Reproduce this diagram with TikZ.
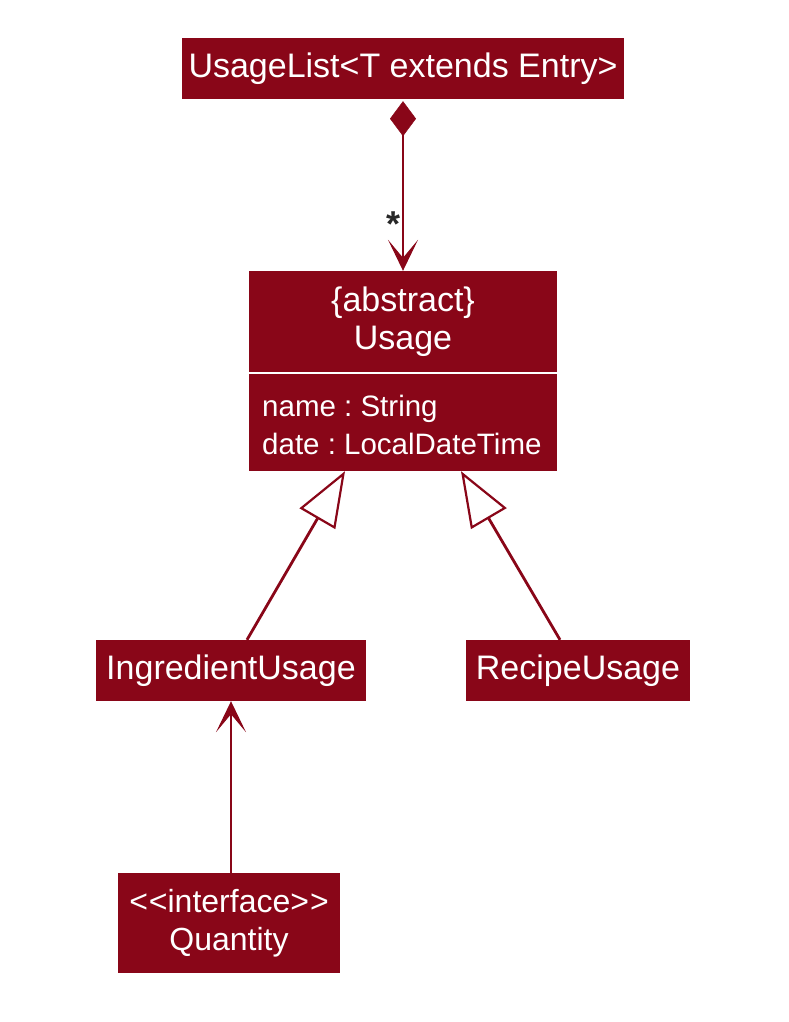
\documentclass[tikz,border=0pt]{standalone}
\usepackage{fontspec}
\setmainfont{Liberation Sans}
\usetikzlibrary{arrows.meta}
\definecolor{umlred}{RGB}{137,6,24}
\definecolor{stargray}{RGB}{40,40,40}
\begin{document}
\frenchspacing
\begin{tikzpicture}[x=1pt,y=-1pt,
  box/.style={draw=none, fill=umlred, inner sep=0pt, text=white,
    font=\fontsize{34}{38}\selectfont, align=center},
  attr/.style={inner sep=0pt, text=white, font=\fontsize{29.5}{38}\selectfont, align=left},
  conn/.style={draw=umlred, line width=2.8pt},
  openhead/.style={-{Stealth[length=31pt,width=30pt,inset=18pt,line width=1pt]}},
  genhead/.style={-{Triangle[open,length=55pt,width=41pt,fill=white,line width=2.2pt]}},
  comphead/.style={{Diamond[length=35pt,width=26pt,line width=0.5pt]}-{Stealth[length=31pt,width=30pt,inset=18pt,line width=1pt]}}
]
\useasboundingbox (0,0) rectangle (788,1022);

% classes
\node[box, minimum width=442pt, minimum height=61pt] (list) at (403,68.5) {UsageList<T extends Entry>};
\node[box, minimum width=308pt, minimum height=101pt] (usagetop) at (403,321.5) {\{abstract\}\\Usage};
\node[box, minimum width=308pt, minimum height=97pt] (usagebot) at (403,422.5) {};
\node[attr, anchor=west] (usageattrs) at (262,425) {name : String\\date : LocalDateTime};
\node[box, minimum width=270pt, minimum height=61pt] (ing) at (231,670.5) {IngredientUsage};
\node[box, minimum width=224pt, minimum height=61pt] (rec) at (578,670.5) {RecipeUsage};
\node[box, minimum width=222pt, minimum height=100pt, font=\fontsize{32}{38}\selectfont] (qty) at (229,923) {<\kern1pt<interface>\kern1pt>\\Quantity};

% connectors
\draw[conn, comphead, shorten <=2pt] (list.south) -- (usagetop.north)
  node[pos=0.80, anchor=base east, inner sep=0pt, xshift=-1pt, text=stargray,
       font=\fontsize{36}{36}\selectfont\bfseries] (star) {*};
\draw[conn, genhead] ([xshift=16pt]ing.north) -- ([xshift=-58pt]usagebot.south);
\draw[conn, genhead] ([xshift=-18pt]rec.north) -- ([xshift=58pt]usagebot.south);
\draw[conn, openhead] (ing.south |- qty.north) -- (ing.south);
\end{tikzpicture}
\end{document}
